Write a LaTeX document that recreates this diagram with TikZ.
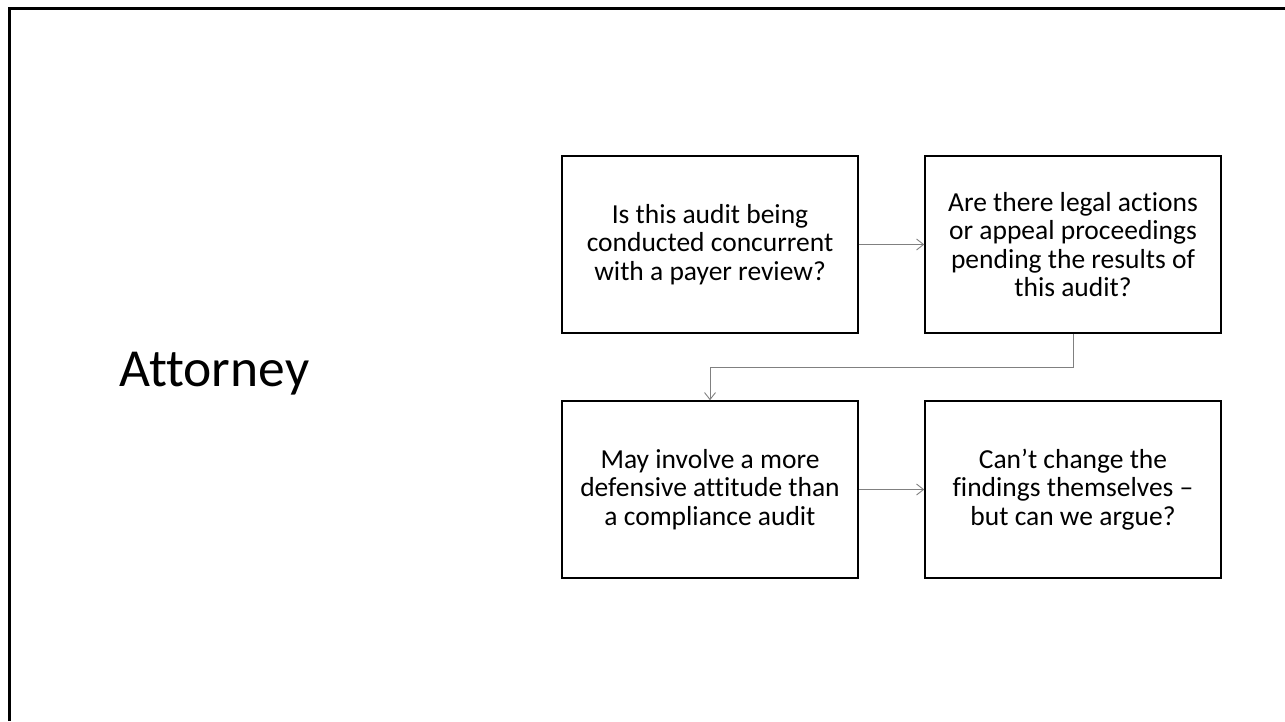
\documentclass[tikz,border=0pt]{standalone}
\usepackage{fontspec}
\setmainfont{Carlito}[Ligatures={NoCommon,TeX}]
\usepackage{xcolor}
\usetikzlibrary{positioning}
\usetikzlibrary{arrows.meta}
\definecolor{linkgray}{RGB}{128,128,128}
\tikzset{
  stepbox/.style={draw=black, line width=1.5pt, minimum width=296pt, minimum height=177pt,
    inner sep=0pt, align=center, font=\fontsize{27.5}{28.6}\selectfont},
  link/.style={draw=linkgray, line width=0.9pt, -{Straight Barb[length=7pt,width=11pt]}}
}

\begin{document}
\begin{tikzpicture}[x=1pt, y=-1pt]
	\useasboundingbox (0,0) rectangle (1285,721);
	\draw[black, line width=3pt] (9,721) |- (1285,8);
	\node[anchor=base west, font=\fontsize{53.5}{56}\selectfont] (title) at (116,386) {Attorney};
	\node[stepbox] (concurrent) at (710,244.5) {Is this audit being\\conducted concurrent\\with a payer review?};
	\node[stepbox] (pending) at (1073,244.5) {Are there legal actions\\or appeal proceedings\\pending the results of\\this audit?};
	\node[stepbox] (defensive) at (710,489.5) {May involve a more\\defensive attitude than\\a compliance audit};
	\node[stepbox] (argue) at (1073,489.5) {Can’t change the\\findings themselves –\\but can we argue?};
	\coordinate (bend) at (1073,367);
	\draw[link] (concurrent) -- (pending);
	\draw[link] (pending.south) -- (bend) -| (defensive.north);
	\draw[link] (defensive) -- (argue);
\end{tikzpicture}
\end{document}
